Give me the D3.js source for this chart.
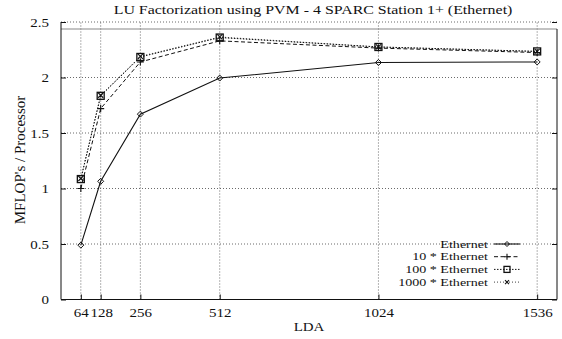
<!DOCTYPE html>
<html>
<head>
<meta charset="utf-8">
<script src="https://cdn.jsdelivr.net/npm/d3@7"></script>
<style>
	body { margin: 0; background: #fff; }
	text { font-family: "Liberation Serif", "Times New Roman", serif; fill: #111; }
</style>
</head>
<body>
<svg id="chart" width="562" height="339"></svg>
<script>
// values
let lda = [64, 128, 256, 512, 1024, 1536];
let seriesNames = ["Ethernet", "10 * Ethernet", "100 * Ethernet", "1000 * Ethernet"];
let ethernet1 = [0.49, 1.065, 1.67, 1.995, 2.135, 2.14];
let ethernet10 = [1.0, 1.72, 2.14, 2.33, 2.265, 2.225];
let ethernet100 = [1.085, 1.835, 2.185, 2.36, 2.275, 2.235];
let ethernet1000 = [1.09, 1.84, 2.19, 2.365, 2.275, 2.235];
let yTicks = [0, 0.5, 1, 1.5, 2, 2.5];

let svg = d3.select("#chart");

let x = d3.scaleLinear().domain([0, 1600]).range([61, 557]);
let y = d3.scaleLinear().domain([0, 2.5]).range([299.5, 22]);

// the scan is stretched sideways, so the text is too
function stretch(sel, sx) {
	sel.each(function() {
		let t = d3.select(this);
		let tx = +t.attr("x") || 0, ty = +t.attr("y") || 0;
		t.attr("x", 0).attr("y", 0)
			.attr("transform", "translate(" + tx + "," + ty + ") scale(" + sx + ",1)");
	});
}

///////////////-----GRID-----////////////////
let grid = svg.append("g").attr("stroke", "#444").attr("stroke-width", 0.8).attr("stroke-dasharray", "1,2");
grid.selectAll("line.h").data(yTicks).enter().append("line")
	.attr("x1", x(0)).attr("x2", x(1600))
	.attr("y1", d => y(d)).attr("y2", d => y(d));
grid.selectAll("line.v").data(lda).enter().append("line")
	.attr("x1", d => x(d)).attr("x2", d => x(d))
	.attr("y1", y(0)).attr("y2", y(2.5));

// frame (the top edge sits a bit under the 2.5 line in the scan)
svg.append("line").attr("x1", x(0)).attr("x2", x(1600)).attr("y1", 29).attr("y2", 29)
	.attr("stroke", "#888").attr("stroke-width", 1.2);
svg.append("line").attr("x1", x(0)).attr("x2", x(0)).attr("y1", y(2.5)).attr("y2", y(0))
	.attr("stroke", "#111").attr("stroke-width", 1);
svg.append("line").attr("x1", x(1600)).attr("x2", x(1600)).attr("y1", 29).attr("y2", y(0))
	.attr("stroke", "#111").attr("stroke-width", 1);

///////////////-----AXES-----////////////////
let xAxis = svg.append("g").attr("transform", "translate(0," + y(0) + ")")
	.call(d3.axisBottom(x).tickValues(lda).tickSize(-5).tickPadding(9).tickFormat(d3.format("d")));
let yAxis = svg.append("g").attr("transform", "translate(" + x(0) + ",0)")
	.call(d3.axisLeft(y).tickValues(yTicks).tickSize(-5).tickPadding(12).tickFormat(d => d));
svg.append("g").attr("transform", "translate(" + x(1600) + ",0)")
	.call(d3.axisRight(y).tickValues(yTicks).tickSize(-5).tickFormat(""));
svg.selectAll(".domain").remove();
svg.selectAll(".tick line").attr("stroke", "#111");
svg.selectAll(".tick text").style("font-family", "Liberation Serif").style("font-size", "12.5px").attr("fill", "#111");
xAxis.selectAll(".tick text").attr("dy", "0.71em");
yAxis.selectAll(".tick text").attr("dy", "0.32em");
// the 64 and 128 labels nearly touch in the original
xAxis.selectAll(".tick text").filter(d => d == 128).attr("x", 0.5);
stretch(xAxis.selectAll(".tick text"), 1.2);
stretch(yAxis.selectAll(".tick text"), 1.2);
svg.append("line").attr("x1", x(0)).attr("x2", x(1600)).attr("y1", y(0)).attr("y2", y(0))
	.attr("stroke", "#111").attr("stroke-width", 1.2);

svg.append("text").attr("transform", "translate(313,14) scale(1.18,1)").attr("text-anchor", "middle")
	.style("font-size", "13.5px").text("LU Factorization using PVM - 4 SPARC Station 1+ (Ethernet)");
svg.append("text").attr("transform", "translate(309,331) scale(1.15,1)").attr("text-anchor", "middle")
	.style("font-size", "13px").text("LDA");
svg.append("text").attr("transform", "translate(25,160) rotate(-90)").attr("text-anchor", "middle")
	.style("font-size", "15px").text("MFLOP's / Processor");

///////////////-----SERIES-----////////////////
let series = [
	{ name: seriesNames[0], values: ethernet1, dash: null, mark: "diamond", width: 1.1 },
	{ name: seriesNames[1], values: ethernet10, dash: "4,2.5", mark: "plus", width: 1 },
	{ name: seriesNames[2], values: ethernet100, dash: "1.5,1.5", mark: "square", width: 1 },
	{ name: seriesNames[3], values: ethernet1000, dash: "1,2", mark: "cross", width: 0.8 }
];

let line = d3.line().x((d, i) => x(lda[i])).y(d => y(d));

function drawMark(g, kind, cx, cy, r) {
	if (kind == "diamond") {
		g.append("path").attr("d", `M${cx},${cy-r}L${cx+r},${cy}L${cx},${cy+r}L${cx-r},${cy}Z`)
			.attr("fill", "none").attr("stroke", "#111").attr("stroke-width", 1);
	} else if (kind == "plus") {
		g.append("path").attr("d", `M${cx-r-0.5},${cy}H${cx+r+0.5}M${cx},${cy-r-0.5}V${cy+r+0.5}`)
			.attr("stroke", "#111").attr("stroke-width", 1.1);
	} else if (kind == "square") {
		g.append("rect").attr("x", cx - r - 0.5).attr("y", cy - r - 0.5).attr("width", 2 * r + 1).attr("height", 2 * r + 1)
			.attr("fill", "none").attr("stroke", "#111").attr("stroke-width", 1.3);
	} else {
		g.append("path").attr("d", `M${cx-r+0.5},${cy-r+0.5}L${cx+r-0.5},${cy+r-0.5}M${cx-r+0.5},${cy+r-0.5}L${cx+r-0.5},${cy-r+0.5}`)
			.attr("stroke", "#111").attr("stroke-width", 1.1);
	}
}

series.forEach(function(s, k) {
	let g = svg.append("g");
	g.append("path").datum(s.values).attr("d", line)
		.attr("fill", "none").attr("stroke", "#111").attr("stroke-width", s.width)
		.attr("stroke-dasharray", s.dash);
	s.values.forEach((v, i) => drawMark(g, s.mark, x(lda[i]), y(v), 3));

	// legend entry
	let ly = 244 + k * 12.7;
	svg.append("text").attr("transform", "translate(488," + (ly + 3.6) + ") scale(1.28,1)")
		.attr("text-anchor", "end").style("font-size", "11px").text(s.name);
	let lg = svg.append("g");
	lg.append("line").attr("x1", 494).attr("x2", 520).attr("y1", ly).attr("y2", ly)
		.attr("stroke", "#111").attr("stroke-width", s.width).attr("stroke-dasharray", s.dash);
	drawMark(lg, s.mark, 507, ly, 2.5);
});
</script>
</body>
</html>
